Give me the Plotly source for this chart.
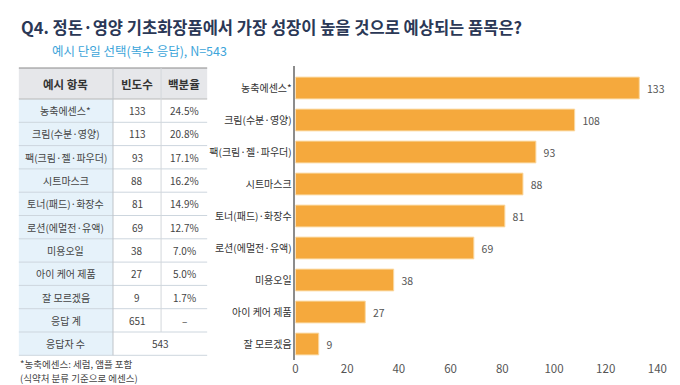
import plotly.graph_objects as go

# ---- data ----
categories = ["농축에센스*", "크림(수분·영양)", "팩(크림·젤·파우더)", "시트마스크", "토너(패드)·화장수",
              "로션(에멀전·유액)", "미용오일", "아이 케어 제품", "잘 모르겠음"]
values = [133, 108, 93, 88, 81, 69, 38, 27, 9]

table_header = ["예시 항목", "빈도수", "백분율"]
table_items = ["농축에센스*", "크림(수분·영양)", "팩(크림·젤·파우더)", "시트마스크", "토너(패드)·화장수",
               "로션(에멀전·유액)", "미용오일", "아이 케어 제품", "잘 모르겠음", "응답 계"]
table_freq = ["133", "113", "93", "88", "81", "69", "38", "27", "9", "651"]
table_pct = ["24.5%", "20.8%", "17.1%", "16.2%", "14.9%", "12.7%", "7.0%", "5.0%", "1.7%", "–"]
respondents_label = "응답자 수"
respondents = "543"

title = "Q4. 정돈·영양 기초화장품에서 가장 성장이 높을 것으로 예상되는 품목은?"
subtitle = "예시 단일 선택(복수 응답), N=543"
footnotes = ["*농축에센스: 세럼, 앰플 포함", "(식약처 분류 기준으로 에센스)"]
x_ticks = [0, 20, 40, 60, 80, 100, 120, 140]

W, H = 680, 385
FONT = "Noto Sans CJK KR"

def X(px):
    return px / W

def Y(py):
    return 1 - py / H

fig = go.Figure()
fig.add_trace(go.Bar(
    x=values, y=categories, orientation="h",
    marker=dict(color="#F5A93D", line=dict(color="#FBD9A3", width=1)),
    text=values, texttemplate="  %{text}", textposition="outside",
    textfont=dict(size=10.5, color="#555555", family=FONT),
    cliponaxis=False, hoverinfo="skip",
))

shapes = []
annotations = []

# title / subtitle
annotations.append(dict(x=X(8), y=Y(19), xref="paper", yref="paper", xanchor="left", yanchor="middle",
                        text="<b>" + title + "</b>", showarrow=False,
                        font=dict(family=FONT, size=16.5, color="#2B3856")))
annotations.append(dict(x=X(40), y=Y(42), xref="paper", yref="paper", xanchor="left", yanchor="middle",
                        text=subtitle, showarrow=False,
                        font=dict(family=FONT, size=12.5, color="#3DA5DA")))

# table geometry
tx0, tx1, tx2, tx3 = 8, 104, 153, 200
head_top, head_bot = 60, 91
row_h = 23.3
n_rows = len(table_items) + 1
table_bot = head_bot + n_rows * row_h

# header bg
shapes.append(dict(type="rect", xref="paper", yref="paper", x0=X(tx0), x1=X(tx3), y0=Y(head_bot), y1=Y(head_top),
                   fillcolor="#E6E7EA", line=dict(width=0), layer="below"))
# first column bg
shapes.append(dict(type="rect", xref="paper", yref="paper", x0=X(tx0), x1=X(tx1), y0=Y(table_bot), y1=Y(head_bot),
                   fillcolor="#E6F2FA", line=dict(width=0), layer="below"))
# top line
shapes.append(dict(type="line", xref="paper", yref="paper", x0=X(tx0), x1=X(tx3), y0=Y(head_top), y1=Y(head_top),
                   line=dict(color="#8A8A8A", width=1.2)))
shapes.append(dict(type="line", xref="paper", yref="paper", x0=X(tx0), x1=X(tx3), y0=Y(head_bot), y1=Y(head_bot),
                   line=dict(color="#B8B8B8", width=1)))
# row lines
for i in range(1, n_rows + 1):
    yy = head_bot + i * row_h
    shapes.append(dict(type="line", xref="paper", yref="paper", x0=X(tx0), x1=X(tx3), y0=Y(yy), y1=Y(yy),
                       line=dict(color="#CDD6DE", width=1)))
# vertical lines
shapes.append(dict(type="line", xref="paper", yref="paper", x0=X(tx1), x1=X(tx1), y0=Y(table_bot), y1=Y(head_top),
                   line=dict(color="#BFC4C9", width=1)))
shapes.append(dict(type="line", xref="paper", yref="paper", x0=X(tx2), x1=X(tx2),
                   y0=Y(head_bot + (n_rows - 1) * row_h), y1=Y(head_top),
                   line=dict(color="#D3D7DB", width=1)))

# header text
for txt, a, b in zip(table_header, [tx0, tx1, tx2], [tx1, tx2, tx3]):
    annotations.append(dict(x=X((a + b) / 2), y=Y((head_top + head_bot) / 2), xref="paper", yref="paper",
                            text="<b>" + txt + "</b>", showarrow=False, xanchor="center", yanchor="middle",
                            font=dict(family=FONT, size=11.5, color="#333333")))
# body text
for i, (item, fq, pc) in enumerate(zip(table_items, table_freq, table_pct)):
    cy = head_bot + (i + 0.5) * row_h
    for txt, a, b in zip([item, fq, pc], [tx0, tx1, tx2], [tx1, tx2, tx3]):
        annotations.append(dict(x=X((a + b) / 2), y=Y(cy), xref="paper", yref="paper", text=txt,
                                showarrow=False, xanchor="center", yanchor="middle",
                                font=dict(family=FONT, size=10, color="#444444")))
cy = head_bot + (n_rows - 0.5) * row_h
annotations.append(dict(x=X((tx0 + tx1) / 2), y=Y(cy), xref="paper", yref="paper", text=respondents_label,
                        showarrow=False, xanchor="center", yanchor="middle",
                        font=dict(family=FONT, size=10, color="#444444")))
annotations.append(dict(x=X((tx1 + tx3) / 2), y=Y(cy), xref="paper", yref="paper", text=respondents,
                        showarrow=False, xanchor="center", yanchor="middle",
                        font=dict(family=FONT, size=10, color="#444444")))
# footnotes
for i, fn in enumerate(footnotes):
    annotations.append(dict(x=X(7), y=Y(356 + i * 13.5), xref="paper", yref="paper", text=fn,
                            showarrow=False, xanchor="left", yanchor="middle",
                            font=dict(family=FONT, size=9.5, color="#444444")))

fig.update_layout(
    width=W, height=H, autosize=False,
    margin=dict(l=0, r=0, t=0, b=0),
    paper_bgcolor="white", plot_bgcolor="white",
    showlegend=False, bargap=0.32,
    shapes=shapes, annotations=annotations,
    font=dict(family=FONT),
    xaxis=dict(domain=[X(290), X(659)], range=[0, 140], tickvals=x_ticks, showgrid=False, zeroline=False,
               showline=False, ticks="", tickfont=dict(size=11.5, color="#555555", family=FONT)),
    yaxis=dict(domain=[Y(352), Y(57.6)], type="category", categoryorder="array", categoryarray=categories,
               range=[8.5, -0.7], showgrid=False, zeroline=False, showline=True, linecolor="#8C8C8C",
               linewidth=1.5, ticks="", tickfont=dict(size=10, color="#333333", family=FONT)),
)

fig.write_html("out.html")
